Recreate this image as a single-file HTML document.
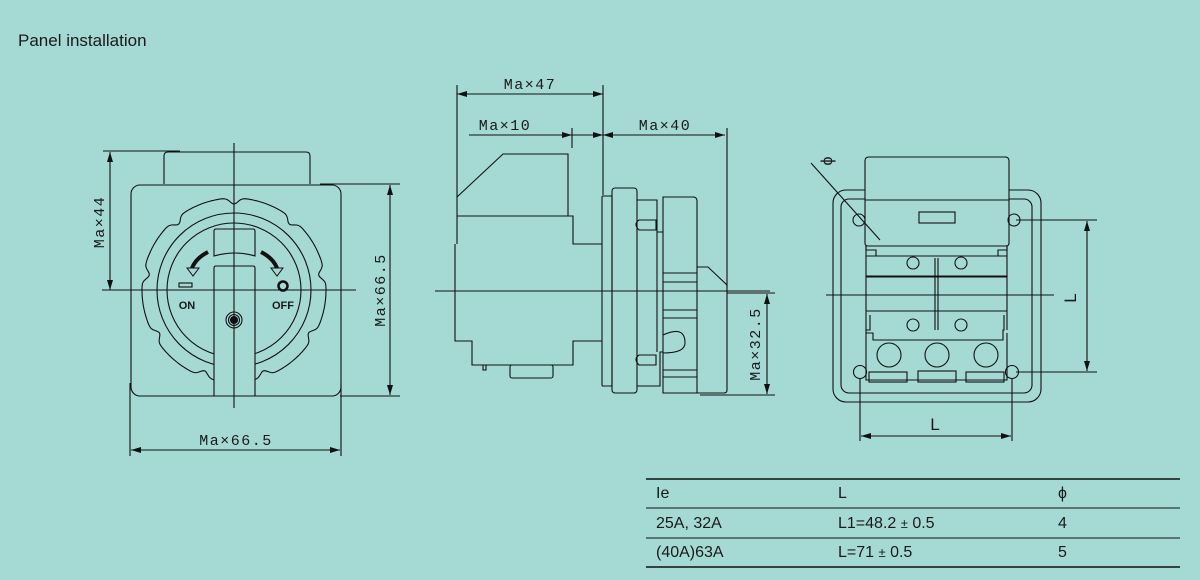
<!DOCTYPE html>
<html><head><meta charset="utf-8"><style>
html,body{margin:0;padding:0;background:#a5d9d4;}
svg{display:block;}
text{font-family:"Liberation Sans",sans-serif;fill:#1a1a1a;}
.m{font-family:"Liberation Mono","DejaVu Sans Mono",monospace;font-size:15px;letter-spacing:1.5px;}
</style></head><body>
<svg width="1200" height="580" viewBox="0 0 1200 580" xmlns="http://www.w3.org/2000/svg">
<defs>
<marker id="a" viewBox="0 0 10 6" refX="10" refY="3" markerWidth="10" markerHeight="6" orient="auto-start-reverse" markerUnits="userSpaceOnUse"><path d="M0,0L10,3L0,6z" fill="#111"/></marker>
</defs>
<rect width="1200" height="580" fill="#a5d9d4"/>
<text x="18" y="46" font-size="17">Panel installation</text>

<g fill="none" stroke="#111" stroke-width="1.1">
<!-- FRONT VIEW -->
<path d="M164,184V156q0,-4 4,-4H306q4,0 4,4V184"/>
<rect x="131" y="185" width="210" height="211" rx="9"/>
<path id="knob" d=""/>
<circle cx="234" cy="290" r="77"/>
<circle cx="234" cy="290" r="67"/>
<path d="M214,256V231q0,-2 2,-2H253q2,0 2,2V256q-20,-6 -41,0z" fill="#a5d9d4"/>
<path d="M214,396V268q0,-2 2,-2H253q2,0 2,2V396z" fill="#a5d9d4"/>
<circle cx="234" cy="320" r="8"/>
<circle cx="234" cy="320" r="5.5"/>
<circle cx="234" cy="320" r="3.5" fill="#111"/>
<path d="M208,252q-12,6 -16,16" stroke-width="4"/>
<path d="M187,268l12,0l-6,8z" stroke-width="1"/>
<path d="M261,252q12,6 16,16" stroke-width="4"/>
<path d="M271,268l12,0l-6,8z" stroke-width="1"/>
<rect x="179" y="283" width="13" height="4"/>
<circle cx="283" cy="286" r="4.5" stroke-width="2.5"/>
<line x1="102" y1="290" x2="356" y2="290"/>
<line x1="234" y1="143" x2="234" y2="408"/>
<!-- dims -->
<line x1="103" y1="151" x2="180" y2="151"/>
<line x1="110" y1="152" x2="110" y2="290" marker-start="url(#a)" marker-end="url(#a)"/>
<line x1="320" y1="184" x2="400" y2="184"/>
<line x1="340" y1="396" x2="400" y2="396"/>
<line x1="390" y1="185" x2="390" y2="395" marker-start="url(#a)" marker-end="url(#a)"/>
<line x1="130" y1="383" x2="130" y2="456"/>
<line x1="341" y1="383" x2="341" y2="456"/>
<line x1="131" y1="450" x2="340" y2="450" marker-start="url(#a)" marker-end="url(#a)"/>

<!-- SIDE VIEW -->
<line x1="457" y1="85" x2="457" y2="198"/>
<line x1="603" y1="85" x2="603" y2="195"/>
<line x1="457" y1="94" x2="603" y2="94" marker-start="url(#a)" marker-end="url(#a)"/>
<line x1="572" y1="128" x2="572" y2="148"/>
<line x1="727" y1="128" x2="727" y2="287"/>
<line x1="469" y1="135" x2="572" y2="135" marker-end="url(#a)"/>
<line x1="572" y1="135" x2="603" y2="135" marker-end="url(#a)"/>
<line x1="603" y1="135" x2="725" y2="135" marker-start="url(#a)" marker-end="url(#a)"/>
<path d="M457,197L503,154H568V216"/>
<path d="M457,216H573V244H602"/>
<path d="M455,244V341H472V365H573V341H602"/>
<line x1="457" y1="197" x2="457" y2="244"/>
<path d="M483,365v5h3v-5"/>
<rect x="510" y="365" width="43" height="13" rx="2"/>
<rect x="602" y="196" width="10" height="190" rx="1"/>
<rect x="612" y="188" width="25" height="205" rx="3"/>
<path d="M637,200H657V232H663M637,386H660V352H663"/>
<path d="M656,220H639q-6,4 0,10H656z"/>
<path d="M656,355H639q-6,4 0,10H656z"/>
<line x1="657" y1="232" x2="657" y2="352"/>
<path d="M663,197H693q4,0 4,4V393H663z"/>
<path d="M663,273H697M663,282H697M663,310H697M663,318H697"/>
<path d="M663,335q22,-10 22,8q0,10 -22,10"/>
<path d="M697,267H708L727,285V390q0,3 -3,3H697"/>
<path d="M663,370H697M663,377H697"/>
<line x1="435" y1="291" x2="770" y2="291"/>
<line x1="727" y1="293" x2="775" y2="293"/>
<line x1="700" y1="395" x2="775" y2="395"/>
<line x1="767" y1="294" x2="767" y2="394" marker-start="url(#a)" marker-end="url(#a)"/>

<!-- BACK VIEW -->
<rect x="833" y="190" width="208" height="212" rx="13"/>
<rect x="841" y="199" width="191" height="194" rx="8"/>
<path d="M865,243V161q0,-4 4,-4H1005q4,0 4,4V243q0,3 -3,3H868q-3,0 -3,-3z" fill="#a5d9d4"/>
<line x1="865" y1="200" x2="1009" y2="200"/>
<rect x="919" y="212" width="36" height="11"/>
<circle cx="859" cy="220" r="6"/>
<circle cx="1014" cy="220" r="6"/>
<circle cx="860" cy="372" r="6.5"/>
<circle cx="1012" cy="372" r="6.5"/>
<path d="M866,246V250H876V256H866M1007,246V250H998V256H1007"/>
<path d="M866,256H1007M866,276H1007M866,277H1007M866,311H1007"/>
<line x1="866" y1="246" x2="866" y2="330"/>
<line x1="1007" y1="246" x2="1007" y2="330"/>
<line x1="935" y1="258" x2="935" y2="330"/>
<line x1="938" y1="258" x2="938" y2="330"/>
<circle cx="913" cy="263" r="6"/>
<circle cx="961" cy="263" r="6"/>
<circle cx="913" cy="325" r="6"/>
<circle cx="961" cy="325" r="6"/>
<path d="M870,315V330H866V333H873V340H1003V330H1004V315"/>
<circle cx="889" cy="355" r="12"/>
<circle cx="937" cy="355" r="12"/>
<circle cx="986" cy="355" r="12"/>
<path d="M866,333V380H1007V333"/>
<rect x="869" y="372" width="38" height="10"/>
<rect x="918" y="371" width="38" height="11"/>
<rect x="966" y="372" width="38" height="10"/>
<line x1="826" y1="295" x2="1054" y2="295"/>
<line x1="1016" y1="220" x2="1097" y2="220"/>
<line x1="1016" y1="372" x2="1097" y2="372"/>
<line x1="1087" y1="221" x2="1087" y2="371" marker-start="url(#a)" marker-end="url(#a)"/>
<line x1="860" y1="378" x2="860" y2="441"/>
<line x1="1012" y1="378" x2="1012" y2="441"/>
<line x1="861" y1="436" x2="1011" y2="436" marker-start="url(#a)" marker-end="url(#a)"/>
<line x1="811" y1="163" x2="880" y2="240"/>

<!-- TABLE -->
<line x1="646" y1="479" x2="1180" y2="479" stroke-width="1.6"/>
<line x1="646" y1="508" x2="1180" y2="508"/>
<line x1="646" y1="538" x2="1180" y2="538"/>
<line x1="646" y1="567" x2="1180" y2="567" stroke-width="1.6"/>
</g>

<text class="m" transform="translate(104,222) rotate(-90)" text-anchor="middle">Ma×44</text>
<text class="m" transform="translate(385,290) rotate(-90)" text-anchor="middle">Ma×66.5</text>
<text class="m" x="236" y="445" text-anchor="middle">Ma×66.5</text>
<text class="m" x="530" y="89" text-anchor="middle">Ma×47</text>
<text class="m" x="505" y="130" text-anchor="middle">Ma×10</text>
<text class="m" x="665" y="130" text-anchor="middle">Ma×40</text>
<text class="m" transform="translate(760,344) rotate(-90)" text-anchor="middle">Ma×32.5</text>
<text x="187" y="309" font-size="11" font-weight="bold" text-anchor="middle">ON</text>
<text x="283" y="309" font-size="11" font-weight="bold" text-anchor="middle">OFF</text>
<text x="1076" y="298" font-size="17" transform="rotate(-90 1076 298)" text-anchor="middle">L</text>
<text x="935" y="430" font-size="17" text-anchor="middle">L</text>
<text x="832" y="161" font-size="16" transform="rotate(-90 832 161)" text-anchor="middle">ϕ</text>

<g font-size="16">
<text x="656" y="498">Ie</text><text x="838" y="498">L</text><text x="1058" y="498">ϕ</text>
<text x="656" y="528">25A, 32A</text><text x="838" y="528">L1=48.2 <tspan font-size="13">±</tspan> 0.5</text><text x="1058" y="528">4</text>
<text x="656" y="557">(40A)63A</text><text x="838" y="557">L=71 <tspan font-size="13">±</tspan> 0.5</text><text x="1058" y="557">5</text>
</g>
</svg>
<script>
(function(){var cx=234,cy=290,d="";for(var i=0;i<=360;i++){var t=i*Math.PI/180;var r=92-6*Math.pow(Math.max(0,Math.cos(9*(t+Math.PI/2))),6);
var x=cx+r*Math.cos(t),y=cy+r*Math.sin(t);d+=(i?"L":"M")+x.toFixed(1)+","+y.toFixed(1);}
document.getElementById("knob").setAttribute("d",d+"z");})();
</script>
</body></html>
